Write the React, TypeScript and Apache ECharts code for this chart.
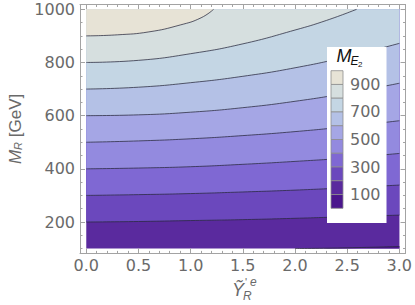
import React, { useEffect, useRef } from "react";
import * as echarts from "echarts";

// ---- data ----
const levels = [100, 200, 300, 400, 500, 600, 700, 800, 900];
// band colours, from level 0-100 up to 900-1000
const bandColors = [
  "#4b168d", "#5a2a9e", "#6b48bd", "#7f68d3", "#938adf",
  "#a5a6e5", "#b4c1e6", "#c4d6e4", "#d6dfdf", "#e7e3d6",
];
// contour lines: [Ỹ'ᵉ_R, M_R] where M_E2 equals the level
const contour100 = [[2.0, 100], [2.5, 103], [3.0, 108]];
const contour200 = [[0, 200], [0.5, 202], [1, 205.5], [1.5, 209], [2, 214], [2.5, 220], [3, 226]];
const contour300 = [[0, 300], [0.5, 303], [1, 307], [1.5, 313], [2, 320], [2.5, 329], [3, 339]];
const contour400 = [[0, 400], [0.5, 403], [1, 408], [1.5, 417], [2, 428], [2.5, 441], [3, 458]];
const contour500 = [[0, 500], [0.5, 505], [1, 513], [1.5, 525], [2, 540], [2.5, 559], [3, 581]];
const contour600 = [[0, 600], [0.5, 603], [1, 613], [1.5, 630], [2, 654], [2.5, 685], [3, 722]];
const contour700 = [[0, 700], [0.5, 707], [1, 724], [1.5, 748], [2, 780], [2.5, 822], [3, 872]];
const contour800 = [[0, 800], [0.5, 808], [1, 833], [1.5, 870], [2, 922], [2.3, 958], [2.59, 1000]];
const contour900 = [[0, 900], [0.3, 904], [0.6, 915], [0.9, 941], [1.1, 968], [1.22, 1000]];
const contours = [contour100, contour200, contour300, contour400, contour500, contour600, contour700, contour800, contour900];

const xMajor = [0, 0.5, 1, 1.5, 2, 2.5, 3];
const xMinor = [0.1, 0.2, 0.3, 0.4, 0.6, 0.7, 0.8, 0.9, 1.1, 1.2, 1.3, 1.4, 1.6, 1.7, 1.8, 1.9, 2.1, 2.2, 2.3, 2.4, 2.6, 2.7, 2.8, 2.9];
const yMajor = [200, 400, 600, 800, 1000];
const yMinor = [100, 150, 250, 300, 350, 450, 500, 550, 650, 700, 750, 850, 900, 950];
const legendLabels = [900, 700, 500, 300, 100];

// ---- layout ----
const W = 415, H = 305;
const X_MIN = 0, X_MAX = 3, Y_MIN = 100, Y_MAX = 1000;
const XPAD = 0.06, YPAD = 18;
const FRAME = { left: 80, top: 4.5, width: 325.7, height: 248.9 };
const fx = FRAME.width / (X_MAX - X_MIN + 2 * XPAD);
const fy = FRAME.height / (Y_MAX - Y_MIN + 2 * YPAD);
const DATA = {
  left: FRAME.left + XPAD * fx,
  top: FRAME.top + YPAD * fy,
  width: (X_MAX - X_MIN) * fx,
  height: (Y_MAX - Y_MIN) * fy,
};

const frameColor = "#a3a3a3";
const labelColor = "#6a6a6a";
const tickFont = "DejaVu Sans";
const lineColor = "rgba(40,40,60,0.75)";

export default function App() {
  const ref = useRef<HTMLDivElement>(null);
  useEffect(() => {
    if (!ref.current) return;
    const chart = echarts.init(ref.current, null, { renderer: "svg" });

    const tickLine = { color: frameColor, width: 1 };
    const mkX = (position: string, major: boolean, labels: boolean) => ({
      type: "value", gridIndex: 0, position,
      min: X_MIN - XPAD, max: X_MAX + XPAD,
      axisLine: { show: major, onZero: false, lineStyle: { color: frameColor, width: 1 } },
      axisTick: { show: true, inside: true, length: major ? 5 : 2.5, customValues: major ? xMajor : xMinor, lineStyle: tickLine },
      axisLabel: labels
        ? { show: true, customValues: xMajor, formatter: (v: number) => v.toFixed(1), color: labelColor, fontSize: 16, fontFamily: tickFont, margin: 4 }
        : { show: false },
      splitLine: { show: false },
    });
    const mkY = (position: string, major: boolean, labels: boolean) => ({
      type: "value", gridIndex: 0, position,
      min: Y_MIN - YPAD, max: Y_MAX + YPAD,
      axisLine: { show: major, onZero: false, lineStyle: { color: frameColor, width: 1 } },
      axisTick: { show: true, inside: true, length: major ? 5 : 2.5, customValues: major ? yMajor : yMinor, lineStyle: tickLine },
      axisLabel: labels
        ? { show: true, customValues: yMajor, formatter: (v: number) => String(v), color: labelColor, fontSize: 16, fontFamily: tickFont, margin: 5 }
        : { show: false },
      splitLine: { show: false },
    });

    const series: any[] = contours.map((data, i) => ({
      type: "line",
      xAxisIndex: 4,
      yAxisIndex: 4,
      data,
      symbol: "none",
      showSymbol: false,
      smooth: 0.5,
      clip: true,
      silent: true,
      lineStyle: { color: lineColor, width: 1 },
      areaStyle: i === 0
        ? { color: bandColors[0], opacity: 1, origin: "start" }
        : { color: bandColors[i + 1], opacity: 1, origin: "end" },
      z: 2 + i,
    }));

    const swTop = 70.7, swH = 13.76, swX = 331, swW = 12;
    const swatches = bandColors.slice().reverse().map((c, i) => ({
      type: "rect",
      shape: { x: swX, y: swTop + i * swH, width: swW, height: swH },
      style: { fill: c, stroke: "#8e8e8e", lineWidth: 0.8 },
      z: 101,
    }));
    const legendTexts = legendLabels.map((v) => {
      const idx = (1000 - v) / 100; // boundary index from top
      return {
        type: "text",
        x: 350, y: swTop + idx * swH,
        style: { text: String(v), fill: labelColor, fontSize: 16, fontFamily: tickFont, align: "left", verticalAlign: "middle" },
        z: 102,
      };
    });

    chart.setOption({
      animation: false,
      backgroundColor: "#ffffff",
      grid: [
        { left: FRAME.left, top: FRAME.top, width: FRAME.width, height: FRAME.height, show: false },
        {
          left: DATA.left, top: DATA.top, width: DATA.width, height: DATA.height,
          show: true, backgroundColor: bandColors[1], borderWidth: 0,
        },
      ],
      xAxis: [
        mkX("bottom", true, true),
        mkX("bottom", false, false),
        mkX("top", true, false),
        mkX("top", false, false),
        { type: "value", gridIndex: 1, min: X_MIN, max: X_MAX, show: false },
      ],
      yAxis: [
        mkY("left", true, true),
        mkY("left", false, false),
        mkY("right", true, false),
        mkY("right", false, false),
        { type: "value", gridIndex: 1, min: Y_MIN, max: Y_MAX, show: false },
      ],
      series,
      graphic: [
        // y-axis title
        {
          type: "text", x: 15, y: FRAME.top + FRAME.height / 2, rotation: Math.PI / 2,
          style: {
            text: "{m|M}{s|R}{n| [GeV]}",
            align: "center", verticalAlign: "middle",
            rich: {
              m: { fontSize: 17, fontStyle: "italic", fill: labelColor, fontFamily: "Liberation Sans" },
              s: { fontSize: 11, fontStyle: "italic", fill: labelColor, fontFamily: "Liberation Sans", verticalAlign: "bottom", padding: [6, 0, 0, 0] },
              n: { fontSize: 17, fill: labelColor, fontFamily: "Liberation Sans" },
            },
          },
          z: 100,
        },
        // x-axis title
        {
          type: "text", x: 238, y: 290,
          style: { text: "\u1EF8", fontSize: 18, fontStyle: "italic", fill: labelColor, fontFamily: "Liberation Sans", align: "center", verticalAlign: "middle" },
          z: 100,
        },
        {
          type: "text", x: 245, y: 282,
          style: { text: "'", fontSize: 11, fill: labelColor, fontFamily: "Liberation Sans", align: "left", verticalAlign: "middle" },
          z: 100,
        },
        {
          type: "text", x: 250, y: 282,
          style: { text: "e", fontSize: 12, fontStyle: "italic", fill: labelColor, fontFamily: "Liberation Sans", align: "left", verticalAlign: "middle" },
          z: 100,
        },
        {
          type: "text", x: 243, y: 296,
          style: { text: "R", fontSize: 12, fontStyle: "italic", fill: labelColor, fontFamily: "Liberation Sans", align: "left", verticalAlign: "middle" },
          z: 100,
        },
        // legend box
        {
          type: "rect", shape: { x: 327, y: 47, width: 59.5, height: 176 },
          style: { fill: "#ffffff" }, z: 100,
        },
        {
          type: "text", x: 344, y: 56,
          style: { text: "M", fontSize: 18, fontStyle: "italic", fill: "#111", fontFamily: "Liberation Sans", align: "center", verticalAlign: "middle" },
          z: 102,
        },
        {
          type: "text", x: 350.5, y: 61,
          style: { text: "E", fontSize: 12, fontStyle: "italic", fill: "#111", fontFamily: "Liberation Sans", align: "left", verticalAlign: "middle" },
          z: 102,
        },
        {
          type: "text", x: 358, y: 64,
          style: { text: "2", fontSize: 8, fill: "#111", fontFamily: "Liberation Sans", align: "left", verticalAlign: "middle" },
          z: 102,
        },
        ...swatches,
        ...legendTexts,
      ],
    });
    return () => chart.dispose();
  }, []);
  return <div ref={ref} style={{ width: W, height: H, position: "absolute", left: 0, top: 0 }} />;
}
